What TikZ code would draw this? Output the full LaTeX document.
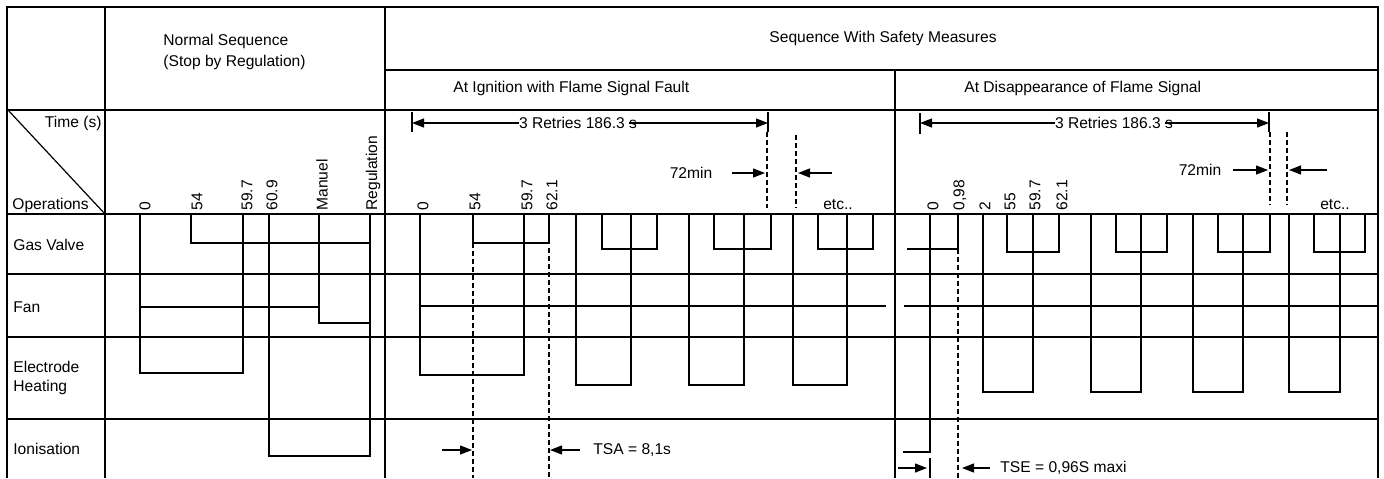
\documentclass[tikz,border=0pt]{standalone}
\usepackage{fontspec}
\setmainfont{Liberation Sans}
\usetikzlibrary{arrows.meta}
\begin{document}
\begin{tikzpicture}[x=0.5pt,y=-0.5pt,
  frame/.style={line width=1.3pt},
  wave/.style={line width=0.6pt},
  dashline/.style={line width=0.6pt, dash pattern=on 2.5pt off 1.5pt},
  lbl/.style={font=\fontsize{7.8}{8.5}\selectfont, inner sep=0pt},
  ticklbl/.style={lbl, rotate=90, anchor=west},
  dim/.style={line width=0.6pt, -{Triangle[length=6pt,width=4.5pt]}},
  barline/.style={line width=1pt}]
\useasboundingbox (0,0) rectangle (1384,478);
\fill[white] (0,0) rectangle (1384,478);

% ---------- waveforms: normal sequence
\draw[wave] (8,110) -- (105,214);
\draw[wave] (140,214) -- (140,373) -- (243,373) -- (243,214);
\draw[wave] (191,214) -- (191,243) -- (370,243);
\draw[wave] (140,307) -- (319,307);
\draw[wave] (319,214) -- (319,323) -- (370,323);
\draw[wave] (370,214) -- (370,456) -- (269,456) -- (269,214);

% ---------- ignition with flame signal fault
\draw[wave] (420,214) -- (420,375) -- (524,375) -- (524,214);
\draw[wave] (473,214) -- (473,243) -- (549,243) -- (549,214);
\draw[dashline] (473,243) -- (473,478);
\draw[dashline] (549,248) -- (549,478);
\draw[wave] (420,306) -- (886,306);
\foreach \a/\b/\c/\d in {576/631/602/657, 689/744/714/771, 793/847/818/873}{
  \draw[wave] (\a,214) -- (\a,385) -- (\b,385) -- (\b,214);
  \draw[wave] (\c,214) -- (\c,249) -- (\d,249) -- (\d,214);
}

% ---------- disappearance of flame signal
\draw[wave] (930,214) -- (930,452) -- (903,452);
\draw[wave] (907,249) -- (958,249) -- (958,214);
\draw[dashline] (958,249) -- (958,478);
\draw[wave] (904,306) -- (1378,306);
\foreach \a/\b/\c/\d in {983/1033/1007/1059, 1091/1141/1116/1167, 1193/1243/1218/1270, 1289/1340/1314/1365}{
  \draw[wave] (\a,214) -- (\a,392) -- (\b,392) -- (\b,214);
  \draw[wave] (\c,214) -- (\c,252) -- (\d,252) -- (\d,214);
}

% ---------- frame
\draw[frame] (7,478) -- (7,7) -- (1378,7) -- (1378,478);
\draw[frame] (105,7) -- (105,478);
\draw[frame] (385,7) -- (385,478);
\draw[frame] (385,70) -- (1378,70);
\draw[frame] (895,70) -- (895,478);
\foreach \y in {110,214,274,337,419}{\draw[frame] (7,\y) -- (1378,\y);}

% ---------- header texts
\node[lbl, anchor=west, align=left, font=\fontsize{7.8}{10.5}\selectfont] (hn) at (163,52) {Normal Sequence\\(Stop by Regulation)};
\node[lbl] (hs) at (883,38) {Sequence With Safety Measures};
\node[lbl, anchor=west] (hi) at (453,88) {At Ignition with Flame Signal Fault};
\node[lbl, anchor=west] (hd) at (964,88) {At Disappearance of Flame Signal};

% ---------- first column
\node[lbl, anchor=east] (tm) at (102,123) {Time (s)};
\node[lbl, anchor=base west] (op) at (12,209) {Operations};
\node[lbl, anchor=west] (gv) at (13,245) {Gas Valve};
\node[lbl, anchor=west] (fn) at (13,307) {Fan};
\node[lbl, anchor=west, align=left, font=\fontsize{7.8}{9.5}\selectfont] (eh) at (13,378) {Electrode\\Heating};
\node[lbl, anchor=west] (io) at (13,449) {Ionisation};

% ---------- time labels
\node[ticklbl] (n0) at (145,211) {0};
\node[ticklbl] (n54) at (197,211) {54};
\node[ticklbl] (n597) at (247,211) {59.7};
\node[ticklbl] (n609) at (272,211) {60.9};
\node[ticklbl] (nman) at (322,211) {Manuel};
\node[ticklbl] (nreg) at (373,211) {Regulation};
\node[ticklbl] (i0) at (423,211) {0};
\node[ticklbl] (i54) at (475,211) {54};
\node[ticklbl] (i597) at (527,211) {59.7};
\node[ticklbl] (i621) at (552,211) {62.1};
\node[ticklbl] (d0) at (933,211) {0};
\node[ticklbl] (d098) at (960,211) {0,98};
\node[ticklbl] (d2) at (985,211) {2};
\node[ticklbl] (d55) at (1010,211) {55};
\node[ticklbl] (d597) at (1035,211) {59.7};
\node[ticklbl] (d621) at (1062,211) {62.1};

% ---------- retries dimension (ignition)
\coordinate (ia) at (412,123);
\coordinate (ib) at (768,123);
\draw[barline] (412,112) -- (412,132);
\draw[barline] (768,112) -- (768,132);
\node[lbl] (r1) at (578,123) {3 Retries 186.3 s};
\draw[dim] (r1.west) -- (ia);
\draw[dim] ([xshift=-4pt]r1.east) -- (ib);
\draw[dashline] (767,132) -- (767,208);
\draw[dashline] (796,135) -- (796,208);
\node[lbl] (m1) at (691,173) {72min};
\coordinate (m1a) at (732,173); \coordinate (m1b) at (765,173);
\coordinate (m1c) at (832,173); \coordinate (m1d) at (798,173);
\draw[dim] (m1a) -- (m1b);
\draw[dim] (m1c) -- (m1d);
\node[lbl] (e1) at (838,205) {etc..};

% ---------- retries dimension (disappearance)
\coordinate (da) at (920,123);
\coordinate (db) at (1269,123);
\draw[barline] (920,113) -- (920,134);
\draw[barline] (1269,112) -- (1269,132);
\node[lbl] (r2) at (1114,123) {3 Retries 186.3 s};
\draw[dim] (r2.west) -- (da);
\draw[dim] ([xshift=-4pt]r2.east) -- (db);
\draw[dashline] (1270,132) -- (1270,205);
\draw[dashline] (1287,132) -- (1287,205);
\node[lbl] (m2) at (1200,170) {72min};
\coordinate (m2a) at (1233,170); \coordinate (m2b) at (1268,170);
\coordinate (m2c) at (1327,170); \coordinate (m2d) at (1289,170);
\draw[dim] (m2a) -- (m2b);
\draw[dim] (m2c) -- (m2d);
\node[lbl] (e2) at (1335,205) {etc..};

% ---------- TSA
\coordinate (ta) at (442,450); \coordinate (tb) at (472,450);
\coordinate (tc) at (580,450); \coordinate (td) at (550,450);
\draw[dim] (ta) -- (tb);
\draw[dim] (tc) -- (td);
\node[lbl, anchor=west] (tsa) at (593,450) {TSA = 8,1s};

% ---------- TSE
\draw[wave] (930,458) -- (930,478);
\coordinate (sa) at (898,468); \coordinate (sb) at (927,468);
\coordinate (sc) at (990,468); \coordinate (sd) at (962,468);
\draw[dim] (sa) -- (sb);
\draw[dim] (sc) -- (sd);
\node[lbl, anchor=west] (tse) at (1000,468) {TSE = 0,96S maxi};
\end{tikzpicture}
\end{document}
